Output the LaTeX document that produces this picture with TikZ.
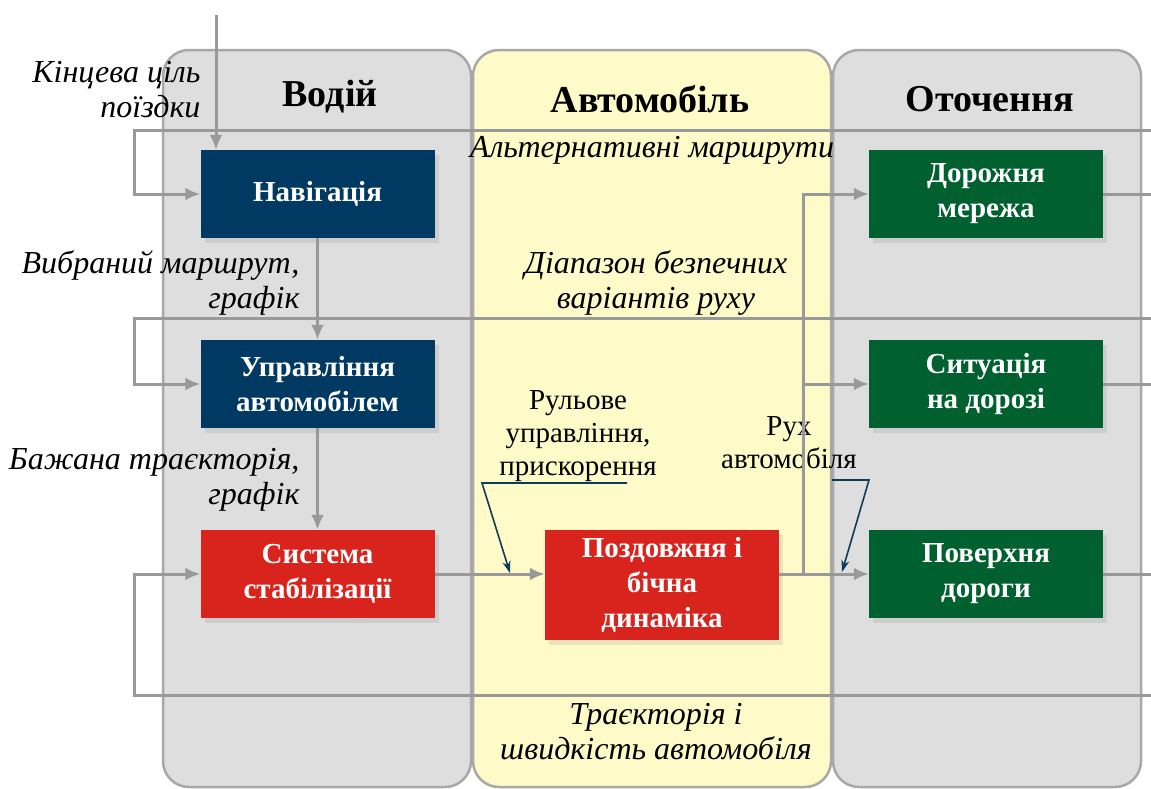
\documentclass[tikz,border=0pt]{standalone}
\usepackage{fontspec}
\setmainfont{Liberation Serif}
\usetikzlibrary{positioning, arrows.meta, shadows}

\definecolor{navblue}{HTML}{003A62}
\definecolor{dynred}{HTML}{D9241D}
\definecolor{envgreen}{HTML}{00602F}
\definecolor{panelgrey}{HTML}{DEDEDE}
\definecolor{panelyellow}{HTML}{FFFBC9}
\definecolor{panelline}{HTML}{A8A8A8}
\definecolor{linegrey}{HTML}{999999}
\definecolor{callblue}{HTML}{0D3B5C}

\begin{document}
\begin{tikzpicture}[x=1pt, y=-1pt, ->, >={Latex[length=15pt,width=13pt]},
                    node distance=190pt,
                    panel/.style={-, draw=panelline, line width=2.5pt, rounded corners=26pt},
                    title/.style={font=\fontsize{38}{44}\selectfont\bfseries},
                    block/.style={rectangle, text=white, align=center, inner sep=0pt,
                      minimum width=234pt, minimum height=88pt,
                      font=\fontsize{29}{35}\selectfont\bfseries,
                      drop shadow={shadow xshift=4pt, shadow yshift=-5pt, opacity=0.18}},
                    flowtext/.style={font=\fontsize{32}{35}\selectfont\itshape},
                    plaintext/.style={font=\fontsize{29}{33}\selectfont, align=center},
                    flow/.style={draw=linegrey, line width=3pt},
                    callout/.style={draw=callblue, line width=1.6pt,
                      -{Stealth[length=12pt,width=8pt]}}]

  % Fondo y columnas.
  \useasboundingbox (0,0) rectangle (1151,788);
  \draw[panel, fill=panelgrey] (163,50) rectangle (471,787);
  \draw[panel, fill=panelyellow] (473,50) rectangle (831,787);
  \draw[panel, fill=panelgrey] (833,50) rectangle (1141,787);

  % Titulos de las columnas.
  \node[title] (driver) at (330,97) {Водій};
  \node[title] (car) at (650,99) {Автомобіль};
  \node[title] (env) at (990,99) {Оточення};

  % Bloques del sistema.
  \node[block, fill=navblue] (nav) at (317.5,194) {Навігація};
  \node[block, fill=navblue, below of=nav] (ctrl) {Управління\\автомобілем};
  \node[block, fill=dynred, below of=ctrl] (stab) {Система\\стабілізації};
  \node[block, fill=dynred, minimum height=110pt] (dyn) at (662,585)
       {Поздовжня і\\бічна\\динаміка};
  \node[block, fill=envgreen] (road) at (986,194) {Дорожня\\мережа};
  \node[block, fill=envgreen, below of=road] (sit) {Ситуація\\на дорозі};
  \node[block, fill=envgreen, below of=sit] (surf) {Поверхня\\дороги};

  % Etiquetas de las senales.
  \node[flowtext, align=right, anchor=east] (goaltext) at (204,90)
       {Кінцева ціль\\поїздки};
  \node[flowtext, align=right, anchor=east] (routetext) at (303,283)
       {Вибраний маршрут,\\графік};
  \node[flowtext, align=right, anchor=east] (pathtext) at (303,480)
       {Бажана траєкторія,\\графік};
  \node[flowtext] (alttext) at (652,150) {Альтернативні маршрути};
  \node[flowtext, align=center] (safetext) at (656,283)
       {Діапазон безпечних\\варіантів руху};
  \node[flowtext, align=center] (tracktext) at (656,732)
       {Траєкторія і\\швидкість автомобіля};
  \node[plaintext] (steertext) at (578,436) {Рульове\\управління,\\прискорення};
  \node[plaintext] (motiontext) at (789,443) {Рух\\автомобіля};

  % Conexiones entre bloques.
  \coordinate (goal) at (216,15);
  \coordinate (rightedge) at (1151,0);
  \coordinate (branch) at (803,574);
  \draw[flow] (goal) -- (goal |- nav.north);
  \draw[flow] (nav) -- (ctrl);
  \draw[flow] (ctrl) -- (stab);
  \draw[flow] (stab.east) -- (stab.east -| dyn.west);
  \draw[flow] (dyn.east |- surf) -- (surf);
  \draw[flow] (branch) |- (road);
  \draw[flow] (branch) |- (sit);
  \draw[flow, -] (road) -- (road -| rightedge);
  \draw[flow, -] (sit) -- (sit -| rightedge);
  \draw[flow, -] (surf) -- (surf -| rightedge);

  % Lazos de realimentacion.
  \coordinate (fbnav) at (1151,130);
  \coordinate (fbnavknee) at (134,130);
  \coordinate (fbctrl) at (1151,318);
  \coordinate (fbctrlknee) at (134,318);
  \coordinate (fbstab) at (1151,695);
  \coordinate (fbstabknee) at (134,695);
  \draw[flow] (fbnav) -- (fbnavknee) |- (nav);
  \draw[flow] (fbctrl) -- (fbctrlknee) |- (ctrl);
  \draw[flow] (fbstab) -- (fbstabknee) |- (stab);

  % Flechas de las etiquetas.
  \coordinate (steertail) at (627,483);
  \coordinate (steerknee) at (482,483);
  \coordinate (steertip) at (510,573);
  \coordinate (motiontail) at (832,480);
  \coordinate (motionknee) at (869,480);
  \coordinate (motiontip) at (842,572);
  \draw[callout] (steertail) -- (steerknee) -- (steertip);
  \draw[callout] (motiontail) -- (motionknee) -- (motiontip);

\end{tikzpicture}
\end{document}
